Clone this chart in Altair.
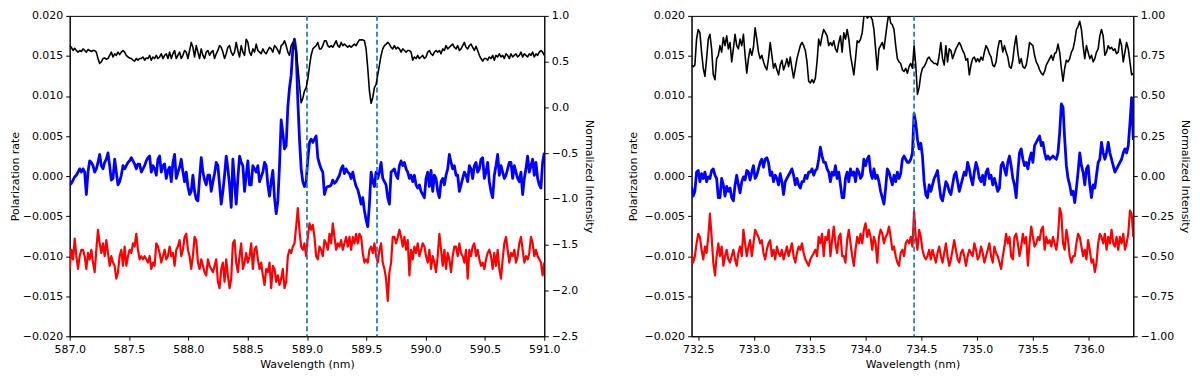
import altair as alt
import numpy as np
import pandas as pd

# ---------------- Panel 1 (587-591 nm) ----------------
P1_WL_RANGE = [587.0, 591.0]
P1_N = 286
P1_SEG_START = [0, 98, 197]

# polarization in units of 1e-3
P1_BLUE = [
    [-1.1, -0.9, -0.5, -0.1, 0.1, 0.5, 0.9, 0.5, 0.9, 0.5,
     -2.3, 0.5, 1.9, 1.7, 1.3, 0.5, 0.9, 1.7, 2.7, 1.3,
     0.9, 1.7, 2.1, 2.9, 1.3, -0.5, -0.3, 2.1, 0.5, -1.1,
     -0.7, 0.1, 1.3, 0.9, 1.3, 1.7, 1.9, 2.3, 1.9, 1.5,
     0.9, 1.5, 1.5, 0.5, 0.9, 1.3, 1.9, 2.3, 2.5, 0.5,
     1.3, 0.9, 0.1, 2.1, 2.5, 0.5, 1.3, 1.5, -0.3, 0.7,
     1.1, -0.7, 1.7, 2.7, -0.3, 0.5, 1.1, 2.1, 0.5, -0.7,
     0.5, -1.3, -2.3, -1.9, 0.1, -1.9, -2.9, -3.1, -0.3, 2.3,
     0.5, -0.5, -1.1, 0.1, 0.1, -1.9, -0.7, 0.3, 1.7, 1.3,
     -1.1, -3.5, -1.9, 0.1, 2.5, 0.9, -1.1, -3.9],
    [2.1, -0.7, -3.5, -0.3, 2.5, 1.7, 1.3, -1.9, 0.1, 1.9,
     -1.1, -1.1, 1.3, 0.9, 0.5, 1.3, -0.7, -0.1, 0.5, 1.7,
     1.3, -1.1, -2.5, -0.7, 0.7, -2.7, -4.7, -3.1, 1.3, 7.0,
     5.4, 3.4, 3.8, 8.6, 11.0, 12.6, 15.9, 17.1, 15.5, 9.4,
     4.6, 0.9, -0.7, -1.3, -0.7, 2.1, 4.2, 4.6, 4.2, 4.6,
     5.0, 2.3, 1.5, 0.9, 0.5, -2.3, -1.5, -1.3, -1.3, -1.1,
     -0.5, -0.9, -0.7, -0.3, 0.1, 0.9, 1.3, 0.3, 0.9, 0.5,
     0.3, -0.3, 0.5, -0.5, -1.3, -1.7, -2.5, -3.5, -2.7, -4.3,
     -5.5, -6.3, -3.5, 0.5, -0.7, -1.3, 0.5, -0.3, 0.5, 1.7,
     -0.3, -0.7, -1.1, -2.7, -3.5, 0.5, 0.7, 0.9, 0.1],
    [-0.3, 1.3, 1.9, 1.3, 1.7, 0.9, 0.5, -0.3, 0.1, -0.7,
     0.1, -1.1, -1.5, -1.1, -1.9, -2.3, -2.7, -0.3, 0.5, -1.3,
     0.7, -1.9, 0.1, -0.3, -1.9, -2.7, -0.7, -0.3, -1.1, 0.1,
     0.9, 2.7, 1.7, 0.9, 1.3, 0.1, 0.1, -1.9, -1.1, -0.3,
     0.5, 0.1, -0.7, 1.3, 0.9, -0.3, 1.3, 1.7, 0.5, 0.9,
     2.1, 2.3, -0.3, 0.5, 1.7, -0.7, -1.9, -2.7, 0.1, 1.3,
     2.7, 0.1, 1.3, 0.5, -0.3, 0.1, 0.9, 1.7, 1.7, -0.3,
     1.3, 0.5, -0.3, -0.7, 0.5, -2.3, -0.3, 0.9, 2.5, 0.5,
     1.3, 2.1, 0.1, 1.7, -0.3, -1.1, -1.5, 1.7, 2.9],
]
P1_RED = [
    [-11.6, -9.2, -10.4, -7.8, -10.0, -11.6, -10.0, -9.2, -9.2, -10.0,
     -11.6, -9.6, -10.4, -9.2, -10.8, -12.0, -9.2, -6.7, -8.4, -9.6,
     -8.4, -10.0, -8.0, -9.6, -11.2, -10.0, -10.8, -11.2, -12.8, -12.0,
     -10.0, -9.2, -11.2, -8.8, -11.2, -10.0, -9.2, -9.6, -8.4, -8.8,
     -7.2, -9.2, -10.4, -10.0, -10.4, -10.0, -10.4, -10.8, -10.0, -11.6,
     -10.8, -11.2, -8.4, -8.8, -9.6, -10.8, -10.0, -9.2, -10.4, -10.0,
     -8.8, -10.0, -9.6, -11.2, -9.2, -8.8, -8.0, -10.0, -9.2, -7.6,
     -7.2, -9.2, -10.0, -11.6, -10.0, -7.6, -8.0, -10.8, -11.6, -10.4,
     -11.2, -12.0, -12.4, -10.4, -11.2, -11.6, -12.0, -11.2, -10.4, -13.2,
     -14.0, -11.6, -10.8, -13.2, -10.4, -12.4, -14.0, -12.8],
    [-8.4, -8.0, -10.8, -12.0, -10.0, -8.4, -11.6, -10.8, -9.6, -10.8,
     -10.0, -8.4, -11.6, -9.2, -8.8, -10.4, -11.6, -10.8, -12.4, -13.6,
     -11.6, -12.0, -10.8, -14.0, -11.2, -11.6, -13.2, -12.4, -13.6, -12.8,
     -11.6, -14.0, -13.2, -10.0, -9.2, -9.6, -8.8, -8.4, -6.3, -4.0,
     -6.8, -8.8, -9.2, -8.4, -10.0, -7.6, -5.9, -6.7, -6.1, -7.6,
     -10.0, -10.4, -8.8, -9.2, -10.0, -8.0, -8.4, -9.2, -7.2, -8.4,
     -5.9, -7.6, -9.2, -8.4, -8.8, -8.0, -9.2, -8.4, -7.6, -8.8,
     -7.6, -9.2, -7.6, -8.4, -7.2, -8.4, -7.2, -7.6, -9.6, -10.8,
     -10.4, -10.8, -9.2, -8.8, -9.6, -8.4, -10.0, -10.8, -9.2, -8.4,
     -10.8, -11.6, -12.8, -15.6, -12.0, -10.8, -7.6, -7.6, -8.4],
    [-7.6, -6.7, -7.6, -8.8, -7.6, -9.2, -8.0, -12.4, -9.2, -10.4,
     -8.8, -9.6, -8.4, -10.0, -9.2, -8.4, -8.8, -10.0, -10.8, -9.2,
     -11.6, -10.0, -10.8, -12.0, -10.0, -7.2, -9.2, -11.2, -9.2, -11.6,
     -9.6, -10.4, -12.0, -10.0, -8.8, -8.8, -10.0, -8.4, -9.6, -10.0,
     -10.8, -9.2, -12.8, -9.2, -10.0, -8.8, -8.4, -10.0, -9.2, -10.4,
     -11.2, -10.8, -11.6, -10.4, -9.6, -9.2, -10.0, -11.6, -9.6, -11.2,
     -9.2, -11.6, -12.8, -10.4, -8.4, -7.6, -9.2, -10.8, -9.6, -10.0,
     -9.2, -10.8, -10.0, -8.4, -7.6, -9.2, -10.8, -10.0, -10.4, -9.6,
     -7.6, -8.4, -10.0, -9.2, -10.0, -10.4, -10.8, -12.4, -10.8],
]
P1_INTENSITY = [
    [0.675, 0.657, 0.622, 0.646, 0.622, 0.604, 0.622, 0.611, 0.639, 0.622,
     0.604, 0.632, 0.622, 0.611, 0.622, 0.622, 0.604, 0.534, 0.481, 0.498,
     0.534, 0.540, 0.527, 0.534, 0.569, 0.604, 0.551, 0.586, 0.569, 0.604,
     0.576, 0.604, 0.622, 0.604, 0.569, 0.551, 0.540, 0.534, 0.516, 0.505,
     0.534, 0.516, 0.534, 0.534, 0.551, 0.516, 0.540, 0.534, 0.569, 0.516,
     0.551, 0.534, 0.569, 0.534, 0.551, 0.586, 0.534, 0.569, 0.586, 0.534,
     0.604, 0.534, 0.586, 0.622, 0.534, 0.569, 0.604, 0.534, 0.569, 0.622,
     0.604, 0.534, 0.622, 0.710, 0.657, 0.551, 0.675, 0.604, 0.534, 0.639,
     0.569, 0.534, 0.604, 0.622, 0.569, 0.604, 0.622, 0.534, 0.586, 0.622,
     0.675, 0.657, 0.604, 0.534, 0.586, 0.657, 0.675, 0.604],
    [0.569, 0.604, 0.710, 0.622, 0.551, 0.675, 0.604, 0.569, 0.745, 0.710,
     0.604, 0.569, 0.639, 0.604, 0.692, 0.622, 0.604, 0.586, 0.639, 0.604,
     0.586, 0.622, 0.657, 0.639, 0.604, 0.675, 0.657, 0.622, 0.586, 0.675,
     0.692, 0.728, 0.675, 0.604, 0.569, 0.675, 0.710, 0.657, 0.622, 0.450,
     0.250, 0.050, 0.100, 0.180, 0.215, 0.310, 0.450, 0.570, 0.639, 0.657,
     0.675, 0.710, 0.639, 0.639, 0.675, 0.728, 0.728, 0.675, 0.657, 0.675,
     0.657, 0.692, 0.728, 0.675, 0.657, 0.710, 0.675, 0.692, 0.675, 0.657,
     0.675, 0.657, 0.675, 0.692, 0.675, 0.710, 0.738, 0.738, 0.738, 0.728,
     0.639, 0.427, 0.180, 0.045, 0.109, 0.215, 0.251, 0.357, 0.463, 0.569,
     0.639, 0.675, 0.692, 0.710, 0.692, 0.657, 0.639, 0.675, 0.639],
    [0.657, 0.639, 0.604, 0.639, 0.622, 0.604, 0.622, 0.622, 0.604, 0.516,
     0.551, 0.534, 0.569, 0.534, 0.551, 0.569, 0.534, 0.551, 0.604, 0.622,
     0.586, 0.569, 0.604, 0.622, 0.604, 0.622, 0.586, 0.639, 0.622, 0.675,
     0.639, 0.657, 0.675, 0.692, 0.657, 0.639, 0.675, 0.622, 0.639, 0.675,
     0.710, 0.657, 0.639, 0.675, 0.692, 0.657, 0.622, 0.667, 0.622, 0.569,
     0.534, 0.505, 0.534, 0.534, 0.516, 0.551, 0.534, 0.569, 0.516, 0.569,
     0.551, 0.586, 0.551, 0.569, 0.534, 0.586, 0.569, 0.534, 0.586, 0.551,
     0.569, 0.586, 0.551, 0.569, 0.604, 0.551, 0.586, 0.569, 0.551, 0.586,
     0.569, 0.604, 0.551, 0.586, 0.569, 0.604, 0.622, 0.604, 0.569],
]
P1_DASHED = [589.0, 589.59]
P1_X_TICKS = [587.0, 587.5, 588.0, 588.5, 589.0, 589.5, 590.0, 590.5, 591.0]
P1_INT_DOMAIN = [-2.5, 1.0]
P1_INT_TICKS = [-2.5, -2.0, -1.5, -1.0, -0.5, 0.0, 0.5, 1.0]

# ---------------- Panel 2 (732.4-736.4 nm) ----------------
P2_WL_START = 732.44
P2_WL_STEP = 0.015
P2_SEG_START = [0, 91, 185]
P2_BLUE = [
    [-1.3, -2.5, -1.9, 0.5, 0.7, -0.7, 0.3, -0.3, 0.5, -0.7,
     -0.1, -0.3, 0.7, 0.9, 0.1, -0.3, -2.7, -2.7, -0.3, -1.1,
     -2.5, -1.3, -1.9, -1.5, -2.7, -3.1, -1.1, 0.1, -1.1, -2.1,
     -0.7, -0.1, -0.5, 0.7, 0.5, -0.5, 0.5, 1.3, -0.3, 0.1,
     0.9, 1.7, 2.1, 1.1, 2.1, 2.3, 1.7, 0.1, 0.5, -0.7,
     0.1, -0.3, -1.1, 0.3, -0.7, -2.3, -0.7, -0.3, 0.1, 0.5,
     0.9, 0.1, -1.1, -0.3, -1.1, -1.5, -0.7, -0.7, 0.1, -0.3,
     0.5, 0.5, 0.9, 0.1, 0.7, 0.9, 2.1, 3.6, 2.5, 1.7,
     1.7, 0.9, 0.5, -0.7, 0.5, 0.1, 1.3, -0.3, 0.5, -1.1,
     -2.7],
    [-2.7, -0.3, 0.5, -0.7, 0.9, 0.1, 0.5, -0.7, 0.9, 0.5,
     -0.3, 0.1, 2.1, 1.3, 2.1, 2.5, 0.5, -0.3, 0.9, -0.3,
     0.1, -0.7, -1.9, -2.7, -3.5, -1.5, 0.9, 0.5, -0.3, -1.1,
     0.1, -0.7, 0.5, -0.3, 0.3, 2.1, 2.5, 2.1, 1.7, 1.7,
     2.1, 2.9, 7.8, 6.6, 4.6, 3.4, 4.1, 2.5, -0.7, -2.3,
     -2.7, -1.1, -1.9, -1.1, -0.3, 0.1, 0.7, -1.1, -2.7, -3.1,
     -1.9, -0.7, -1.1, -1.9, -2.3, -1.1, 0.1, 0.5, -0.7, -1.9,
     -1.1, -0.3, 0.5, 0.1, 1.7, 0.9, -0.3, -1.1, 0.5, 1.7,
     0.9, -0.3, -0.7, 0.1, -1.1, 0.5, 0.9, -0.3, 0.1, -1.1,
     -0.3, -1.1, -1.9, -1.5],
    [1.3, 1.7, 0.9, 0.1, 1.7, 2.5, 1.3, -0.3, -1.1, -2.7,
     0.5, 2.9, 3.4, 2.1, 1.3, 1.7, 0.9, 2.1, 2.9, 1.7,
     3.8, 4.2, 4.6, 5.0, 3.8, 4.2, 2.9, 2.1, 2.5, 2.1,
     2.3, 2.5, 2.3, 2.1, 2.9, 5.4, 9.0, 8.6, 4.6, 1.3,
     -0.3, -1.1, -2.3, -1.9, -3.3, -1.5, 0.5, 2.9, 1.3, 0.5,
     -1.1, 0.9, 1.3, -1.1, -2.7, -1.1, -1.5, 0.1, 1.7, 2.1,
     4.2, 2.9, 2.1, 2.9, 4.2, 2.9, 2.1, 1.3, 0.5, 0.9,
     1.3, 1.7, 2.1, 2.9, 3.4, 2.9, 3.8, 6.6, 9.8, 4.5],
]
P2_RED = [
    [-9.6, -10.8, -10.0, -8.4, -7.2, -7.6, -9.2, -10.4, -8.8, -9.6,
     -7.6, -4.7, -7.6, -10.8, -12.4, -10.0, -8.4, -10.0, -8.8, -11.2,
     -10.0, -9.2, -10.4, -10.8, -10.0, -9.2, -10.4, -11.2, -9.6, -8.8,
     -10.0, -6.7, -8.4, -10.0, -8.8, -8.0, -10.0, -8.4, -6.7, -7.2,
     -7.6, -8.4, -8.0, -9.6, -10.4, -9.2, -8.4, -8.0, -10.0, -9.2,
     -10.4, -8.8, -9.6, -10.0, -9.2, -10.4, -9.6, -8.8, -10.0, -9.2,
     -8.4, -10.0, -10.8, -9.6, -8.8, -9.2, -8.4, -9.6, -10.4, -10.8,
     -11.2, -10.4, -10.0, -9.6, -9.2, -10.0, -7.6, -8.4, -7.2, -10.0,
     -7.6, -8.0, -6.7, -10.0, -8.0, -6.3, -8.4, -9.6, -7.6, -7.2,
     -10.0],
    [-10.0, -10.8, -8.0, -6.7, -8.4, -10.0, -11.2, -9.2, -7.6, -8.4,
     -7.2, -8.4, -6.7, -5.9, -7.6, -6.7, -7.6, -9.2, -7.6, -8.4,
     -10.8, -7.6, -6.7, -7.2, -8.4, -7.6, -7.2, -6.3, -7.6, -9.2,
     -8.8, -10.0, -10.8, -11.2, -9.6, -9.2, -10.0, -8.4, -8.0, -8.4,
     -7.6, -8.8, -4.3, -7.6, -9.2, -6.7, -7.6, -9.2, -10.0, -10.4,
     -10.0, -9.2, -10.4, -9.2, -10.0, -10.8, -9.6, -8.8, -10.0, -10.8,
     -9.6, -8.4, -10.0, -11.2, -10.4, -9.2, -8.0, -9.2, -10.4, -10.8,
     -9.6, -9.2, -10.0, -11.2, -10.0, -9.2, -9.6, -10.0, -8.4, -9.2,
     -10.4, -10.0, -8.8, -9.6, -10.8, -10.0, -9.2, -8.4, -10.0, -10.8,
     -8.8, -9.6, -10.0, -10.8],
    [-11.6, -10.0, -8.8, -7.2, -8.4, -7.6, -10.0, -10.4, -7.6, -7.2,
     -8.4, -10.0, -8.8, -7.2, -8.4, -7.6, -11.2, -8.4, -6.3, -7.6,
     -8.8, -8.4, -7.6, -8.0, -6.7, -6.3, -9.2, -7.6, -8.4, -8.0,
     -8.8, -7.6, -8.4, -9.2, -7.6, -4.0, -4.7, -8.4, -9.2, -6.7,
     -8.0, -10.0, -10.8, -10.0, -10.0, -8.4, -7.2, -7.6, -8.8, -10.0,
     -9.2, -10.4, -8.0, -9.2, -10.8, -10.4, -12.0, -10.8, -8.4, -7.2,
     -7.6, -8.4, -7.2, -9.2, -7.6, -8.4, -6.7, -8.4, -8.8, -7.6,
     -9.2, -7.6, -8.4, -7.2, -9.2, -8.4, -7.2, -4.3, -4.7, -7.6],
]
P2_INTENSITY = [
    [0.693, 0.683, 0.693, 0.855, 0.915, 0.895, 0.774, 0.673, 0.622, 0.733,
     0.855, 0.885, 0.794, 0.632, 0.602, 0.733, 0.754, 0.814, 0.774, 0.865,
     0.814, 0.875, 0.794, 0.834, 0.713, 0.794, 0.885, 0.814, 0.794, 0.855,
     0.814, 0.885, 0.754, 0.642, 0.733, 0.794, 0.754, 0.804, 0.925, 0.855,
     0.774, 0.733, 0.754, 0.713, 0.683, 0.663, 0.733, 0.834, 0.754, 0.673,
     0.703, 0.663, 0.632, 0.693, 0.723, 0.663, 0.693, 0.733, 0.683, 0.743,
     0.673, 0.612, 0.673, 0.733, 0.774, 0.814, 0.834, 0.814, 0.784, 0.713,
     0.592, 0.582, 0.602, 0.582, 0.612, 0.713, 0.855, 0.814, 0.875, 0.915,
     0.895, 0.875, 0.814, 0.834, 0.814, 0.844, 0.794, 0.774, 0.834, 0.875,
     0.774],
    [0.895, 0.855, 0.915, 0.855, 0.754, 0.693, 0.632, 0.733, 0.844, 0.834,
     0.855, 0.895, 0.996, 1.020, 0.986, 0.996, 0.996, 0.976, 0.915, 0.794,
     0.663, 0.794, 0.814, 0.834, 0.794, 0.875, 0.956, 1.020, 0.956, 0.945,
     0.915, 0.814, 0.733, 0.713, 0.703, 0.663, 0.653, 0.673, 0.642, 0.683,
     0.703, 0.673, 0.814, 0.693, 0.510, 0.552, 0.632, 0.673, 0.683, 0.703,
     0.733, 0.743, 0.723, 0.713, 0.703, 0.703, 0.693, 0.754, 0.834, 0.733,
     0.693, 0.814, 0.713, 0.794, 0.784, 0.733, 0.764, 0.794, 0.814, 0.834,
     0.814, 0.784, 0.764, 0.723, 0.733, 0.632, 0.693, 0.733, 0.743, 0.713,
     0.733, 0.713, 0.743, 0.723, 0.774, 0.814, 0.794, 0.764, 0.743, 0.693,
     0.683, 0.713, 0.794, 0.844],
    [0.844, 0.774, 0.814, 0.774, 0.743, 0.683, 0.673, 0.723, 0.814, 0.875,
     0.774, 0.703, 0.733, 0.683, 0.673, 0.693, 0.754, 0.834, 0.824, 0.814,
     0.754, 0.713, 0.693, 0.663, 0.642, 0.632, 0.653, 0.693, 0.713, 0.733,
     0.754, 0.723, 0.764, 0.774, 0.824, 0.774, 0.673, 0.592, 0.673, 0.723,
     0.713, 0.733, 0.774, 0.794, 0.844, 0.915, 0.935, 0.966, 0.915, 0.814,
     0.733, 0.814, 0.774, 0.733, 0.754, 0.713, 0.733, 0.774, 0.794, 0.875,
     0.915, 0.875, 0.754, 0.774, 0.814, 0.794, 0.804, 0.784, 0.794, 0.764,
     0.774, 0.855, 0.814, 0.713, 0.774, 0.834, 0.794, 0.713, 0.632, 0.642],
]
P2_DASHED = [734.435]
P2_X_TICKS = [732.5, 733.0, 733.5, 734.0, 734.5, 735.0, 735.5, 736.0]
P2_INT_DOMAIN = [-1.0, 1.0]
P2_INT_TICKS = [-1.0, -0.75, -0.5, -0.25, 0.0, 0.25, 0.5, 0.75, 1.0]

POL_DOMAIN = [-0.02, 0.02]
POL_TICKS = [-0.02, -0.015, -0.01, -0.005, 0.0, 0.005, 0.01, 0.015, 0.02]

FONT = "DejaVu Sans"


def assemble(segments, starts):
    ks, vs = [], []
    for seg, st in zip(segments, starts):
        for i, v in enumerate(seg):
            ks.append(st + i)
            vs.append(v)
    return np.array(ks), np.array(vs, dtype=float)


def p1_wl(k):
    return P1_WL_RANGE[0] + (P1_WL_RANGE[1] - P1_WL_RANGE[0]) * k / (P1_N - 1)


def p2_wl(k):
    return P2_WL_START + P2_WL_STEP * k


def build_frames(blue, red, inten, starts, wl_fn):
    kb, vb = assemble(blue, starts)
    kr, vr = assemble(red, starts)
    ki, vi = assemble(inten, starts)
    pol = pd.concat([
        pd.DataFrame({"wl": wl_fn(kb), "value": vb * 1e-3, "series": "blue"}),
        pd.DataFrame({"wl": wl_fn(kr), "value": vr * 1e-3, "series": "red"}),
    ], ignore_index=True)
    inten_df = pd.DataFrame({"wl": wl_fn(ki), "value": vi})
    return pol, inten_df


def panel(pol_df, int_df, dashed, x_dom, x_ticks, int_dom, int_ticks, int_fmt,
          width, height, left_title_pad):
    x = alt.X("wl:Q",
              scale=alt.Scale(domain=x_dom, nice=False, zero=False),
              axis=alt.Axis(values=x_ticks, format=".1f", title="Wavelength (nm)",
                            labelFlush=False, labelOverlap=False, titlePadding=4))
    pol = alt.Chart(pol_df).mark_line(clip=True, strokeJoin="round").encode(
        x=x,
        y=alt.Y("value:Q",
                scale=alt.Scale(domain=POL_DOMAIN, nice=False, zero=False),
                axis=alt.Axis(orient="left", values=POL_TICKS, format=".3f",
                              title="Polarization rate", titlePadding=left_title_pad,
                              labelOverlap=False)),
        color=alt.Color("series:N",
                        scale=alt.Scale(domain=["blue", "red"], range=["#0000ff", "#ff0000"]),
                        legend=None),
        strokeWidth=alt.StrokeWidth("series:N",
                                    scale=alt.Scale(domain=["blue", "red"], range=[2.8, 2.2]),
                                    legend=None),
    )
    rules = alt.Chart(pd.DataFrame({"wl": dashed})).mark_rule(
        color="#1f77b4", strokeDash=[5, 3], strokeWidth=1.7
    ).encode(x="wl:Q")
    black = alt.Chart(int_df).mark_line(clip=True, color="black", strokeWidth=1.6,
                                        strokeJoin="round").encode(
        x=x,
        y=alt.Y("value:Q",
                scale=alt.Scale(domain=int_dom, nice=False, zero=False),
                axis=alt.Axis(orient="right", values=int_ticks, format=int_fmt,
                              title="Normalized Intensity", titlePadding=6,
                              labelOverlap=False)),
    )
    return alt.layer(pol, rules, black).resolve_scale(y="independent").properties(
        width=width, height=height)


p1_pol, p1_int = build_frames(P1_BLUE, P1_RED, P1_INTENSITY, P1_SEG_START, p1_wl)
p2_pol, p2_int = build_frames(P2_BLUE, P2_RED, P2_INTENSITY, P2_SEG_START, p2_wl)

p2_end = P2_WL_START + P2_WL_STEP * (P2_SEG_START[2] + len(P2_BLUE[2]) - 1)

left = panel(p1_pol, p1_int, P1_DASHED, P1_WL_RANGE, P1_X_TICKS,
             P1_INT_DOMAIN, P1_INT_TICKS, ".1f", 477, 322, 2)
right = panel(p2_pol, p2_int, P2_DASHED, [P2_WL_START, round(p2_end, 3)], P2_X_TICKS,
              P2_INT_DOMAIN, P2_INT_TICKS, ".2f", 444, 322, 6)

chart = alt.hconcat(left, right, spacing=148, bounds="flush").properties(
    padding={"left": 0, "top": 0, "right": 0, "bottom": 0}
).configure_axis(
    labelFont=FONT, titleFont=FONT, labelFontSize=11, titleFontSize=11,
    titleFontWeight="normal", labelColor="black", titleColor="black",
    tickColor="black", domainColor="black", grid=False, tickSize=4,
    labelPadding=3, domainWidth=1, tickWidth=1,
).configure_view(stroke="black", strokeWidth=1)

chart.save("out.html", embed_options={"renderer": "svg", "actions": False})
